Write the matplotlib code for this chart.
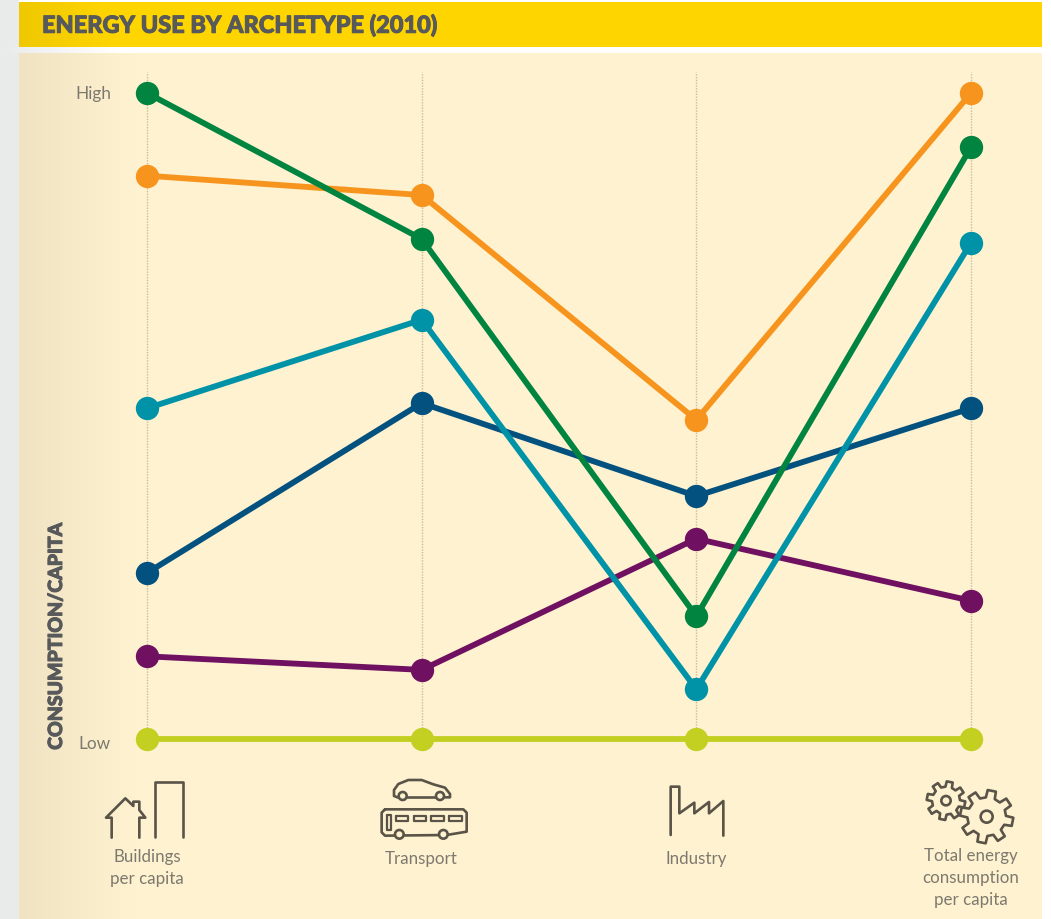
import numpy as np
import matplotlib
matplotlib.use("Agg")
import matplotlib.pyplot as plt
import matplotlib.patheffects as pe
from matplotlib.colors import LinearSegmentedColormap
from matplotlib.patches import Circle, Polygon, Rectangle

W, H = 1051, 919
title = "ENERGY USE BY ARCHETYPE (2010)"
y_title = "CONSUMPTION/CAPITA"
categories = ["Buildings\nper capita", "Transport", "Industry", "Total energy\nconsumption\nper capita"]
y_labels = ["Low", "High"]
y_label_values = [0, 100]

green = [100, 77.4, 19.0, 91.6]
orange = [87.2, 84.2, 49.4, 100]
teal = [51.2, 64.9, 7.7, 76.8]
navy = [25.7, 52.0, 37.6, 51.2]
purple = [12.8, 10.7, 31.0, 21.4]
lime = [0, 0, 0, 0]

series = [(lime, "#c3cf21"), (purple, "#6f1160"), (navy, "#02517f"),
          (orange, "#f7941d"), (teal, "#0092a6"), (green, "#00843f")]

INK = "#58595b"
ICON = "#5a5348"
LIGHT = "#7d796f"
PANEL = "#fef2d0"

fig = plt.figure(figsize=(W / 100, H / 100), dpi=100, facecolor="white")

# pixel-coordinate layer for backgrounds and icons
bg = fig.add_axes([0, 0, 1, 1], zorder=0)
bg.set_xlim(0, W); bg.set_ylim(H, 0); bg.axis("off")


def hgrad(x0, x1, y0, y1, c0, c1):
    cm = LinearSegmentedColormap.from_list("g", [c0, c1])
    bg.imshow(np.linspace(0, 1, 256).reshape(1, -1), cmap=cm, extent=(x0, x1, y1, y0),
              aspect="auto", zorder=1, interpolation="bilinear")


bg.add_patch(Rectangle((0, 0), 19, H, fc="#e9eaea", ec="none", zorder=0.5))
hgrad(0, 115, 47, 53, "#e9eaea", "#ffffff")
hgrad(19, 110, 2, 47, "#efc800", "#ffd500")
bg.add_patch(Rectangle((110, 2), W - 110 - 9, 45, fc="#ffd500", ec="none", zorder=1))
hgrad(19, 135, 53, H, "#efe3c3", PANEL)
bg.add_patch(Rectangle((135, 53), 1042 - 135, H - 53, fc=PANEL, ec="none", zorder=1))
bg.set_xlim(0, W); bg.set_ylim(H, 0)


def icon_xy(pts, ox, oy):
    a = np.array(pts, float) / 3
    return a + [ox, oy]


def stroke(pts, ox, oy, closed=False, lw=1.9):
    a = icon_xy(pts, ox, oy)
    if closed:
        a = np.vstack([a, a[0]])
    bg.plot(a[:, 0], a[:, 1], color=ICON, lw=lw, solid_capstyle="round", solid_joinstyle="round", zorder=3)


def ring(cx, cy, r, ox, oy):
    bg.add_patch(Circle((cx / 3 + ox, cy / 3 + oy), r / 3, fc=PANEL, ec=ICON, lw=1.9, zorder=4))


def gear(cx, cy, ro, ri, hole, ox, oy, teeth=8):
    pts = []
    step = 2 * np.pi / teeth
    for k in range(teeth):
        t = k * step + step / 4
        for da, r in [(-0.30, ri), (-0.20, ro), (0.20, ro), (0.30, ri)]:
            a = t + da * step * 1.0
            pts.append((cx + r * np.cos(a), cy + r * np.sin(a)))
    a = icon_xy(pts, ox, oy)
    bg.add_patch(Polygon(a, closed=True, fc=PANEL, ec=ICON, lw=1.9, joinstyle="round", zorder=3))
    bg.add_patch(Circle((cx / 3 + ox, cy / 3 + oy), hole / 3, fc=PANEL, ec=ICON, lw=1.9, zorder=4))


# buildings icon
stroke([(335, 353), (335, 293), (318, 293), (376, 235), (400, 258), (400, 245), (418, 245),
        (418, 270), (436, 293), (418, 293), (418, 353)], 0, 720)
stroke([(466, 350), (466, 187), (548, 187), (548, 350)], 0, 720)

# transport icon: car
stroke([(1195, 233), (1182, 228), (1182, 210), (1195, 192), (1225, 180), (1265, 180), (1300, 193),
        (1335, 203), (1350, 222), (1350, 232), (1335, 232)], 0, 720)
stroke([(1220, 231), (1308, 231)], 0, 720)
ring(1208, 228, 12, 0, 720)
ring(1320, 228, 12, 0, 720)
# transport icon: bus
stroke([(1155, 268), (1390, 268), (1400, 278), (1400, 335), (1340, 345), (1155, 347), (1145, 337),
        (1145, 278)], 0, 720, closed=True)
for x0, x1 in [(1188, 1225), (1241, 1279), (1294, 1332), (1347, 1386)]:
    stroke([(x0, 287), (x1, 287), (x1, 303), (x0, 303)], 0, 720, closed=True, lw=1.6)
stroke([(1160, 285), (1173, 285), (1173, 330), (1160, 330)], 0, 720, closed=True, lw=1.6)
ring(1198, 343, 13, 0, 720)
ring(1330, 343, 13, 0, 720)

# industry icon
stroke([(92, 345), (92, 200), (118, 200), (118, 280), (163, 248), (163, 280), (207, 246), (207, 280),
        (250, 243), (250, 347)], 640, 720)

# gears icon
gear(918, 242, 58, 42, 14, 640, 720)
gear(1040, 290, 80, 58, 18, 640, 720)

# title and axis title
fam = ["Lato", "DejaVu Sans"]
heavy = [pe.withStroke(linewidth=0.7, foreground=INK)]
bg.text(42, 25, title, fontsize=16.95, fontweight="black", color=INK, family=fam, va="center", ha="left",
        zorder=5, path_effects=heavy)
bg.text(56.5, 636, y_title, fontsize=14.0, fontweight="black", color=INK, family=fam,
        rotation=90, va="center", ha="center", zorder=5, path_effects=heavy)

# data layer
ax = fig.add_axes([0, 0, 1, 1], zorder=1)
ax.patch.set_alpha(0)
ux = (971 - 147) / 3
uy = (739 - 93) / 100
ax.set_xlim(-147 / ux, (W - 147) / ux)
ax.set_ylim(-(H - 739) / uy, 739 / uy)
ax.axis("off")
xs = np.arange(len(categories))

for x in xs:
    ax.plot([x, x], [0, (739 - 72) / uy], color="#cbbc9c", lw=1.0, ls=(0, (1, 1)), zorder=1)
for vals, c in series:
    ax.plot(xs, vals, color=c, lw=4.2, marker="o", ms=16.8, mew=0, zorder=3,
            solid_capstyle="butt")

for v, lab, dy in zip(y_label_values, y_labels, [-0.8, -0.2]):
    ax.text(-36 / ux, v + dy, lab, ha="right", va="center", fontsize=12.4, fontweight="normal",
            color=LIGHT, family=fam)

tops = [849, 851, 851, 848]
for x, s, t in zip(xs, categories, tops):
    ax.text(x, (739 - t) / uy, s, ha="center", va="top", fontsize=12.2, fontweight="normal",
            color=LIGHT, family=fam, linespacing=1.47)

fig.savefig("out.png", dpi=100, facecolor="white")
